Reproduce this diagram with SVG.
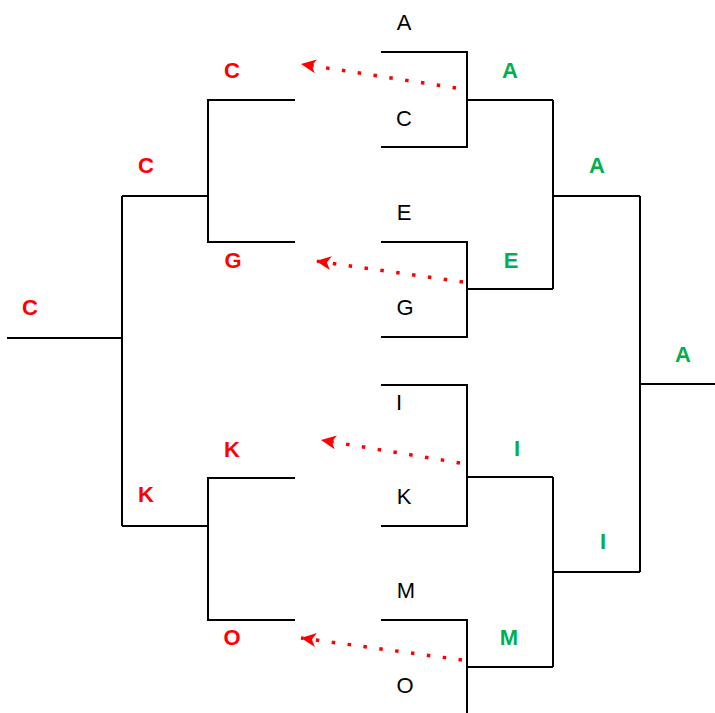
<svg xmlns="http://www.w3.org/2000/svg" width="715" height="713" viewBox="0 0 715 713">
<style>
.ln{stroke:#000;stroke-width:2;fill:none}
.arr{stroke:#ff0000;stroke-width:3.5;stroke-dasharray:3.5 12.5;fill:none}
.t{font-family:"Liberation Sans",Arial,sans-serif;font-size:22px;text-anchor:middle}
.r{fill:#ff0000;font-weight:bold}
.g{fill:#00b050;font-weight:bold}
.b{fill:#000}
</style>
<defs>
<marker id="ah" markerUnits="userSpaceOnUse" markerWidth="16" markerHeight="16" refX="15" refY="7" orient="auto" overflow="visible">
<path d="M15,7 L0,0 L4,7 L0,14 Z" fill="#ff0000"/>
</marker>
</defs>
<rect width="715" height="713" fill="#fff"/>
<g id="connectors">
<path class="ln" d="M381,52 H467 V147 H381 M467,100 H553"/>
<path class="ln" d="M381,242 H467 V337 H381 M467,289 H553"/>
<path class="ln" d="M381,385 H467 V526 H381 M467,477 H553"/>
<path class="ln" d="M381,620 H467 V713 M467,667 H553"/>
<path class="ln" d="M553,100 V289 M553,196 H640"/>
<path class="ln" d="M553,477 V667 M553,572 H640"/>
<path class="ln" d="M640,196 V572 M640,384 H715"/>
<path class="ln" d="M7,338 H122 M122,196 V526 M122,196 H208 M122,526 H208"/>
<path class="ln" d="M295,100 H208 V242 H295"/>
<path class="ln" d="M295,478 H208 V620 H295"/>
<line class="arr" x1="456" y1="88" x2="301" y2="64" marker-end="url(#ah)"/>
<line class="arr" x1="463" y1="282" x2="316" y2="261" marker-end="url(#ah)"/>
<line class="arr" x1="460" y1="463" x2="321" y2="440" marker-end="url(#ah)"/>
<line class="arr" x1="462" y1="660" x2="301" y2="638" marker-end="url(#ah)"/>
</g>
<g id="players">
<text class="t b" x="404" y="30">A</text>
<text class="t b" x="404" y="126">C</text>
<text class="t b" x="404" y="220">E</text>
<text class="t b" x="405" y="315">G</text>
<text class="t b" x="399" y="410">I</text>
<text class="t b" x="404" y="504">K</text>
<text class="t b" x="406" y="598">M</text>
<text class="t b" x="405" y="693">O</text>
</g>
<g id="winners">
<text class="t g" x="510" y="78">A</text>
<text class="t g" x="511" y="268">E</text>
<text class="t g" x="517" y="456">I</text>
<text class="t g" x="509" y="645">M</text>
<text class="t g" x="597" y="173">A</text>
<text class="t g" x="603" y="549">I</text>
<text class="t g" x="683" y="362">A</text>
</g>
<g id="losers">
<text class="t r" x="232" y="78">C</text>
<text class="t r" x="233" y="268">G</text>
<text class="t r" x="232" y="457">K</text>
<text class="t r" x="232" y="645">O</text>
<text class="t r" x="146" y="173">C</text>
<text class="t r" x="146" y="502">K</text>
<text class="t r" x="30" y="315">C</text>
</g>
</svg>
